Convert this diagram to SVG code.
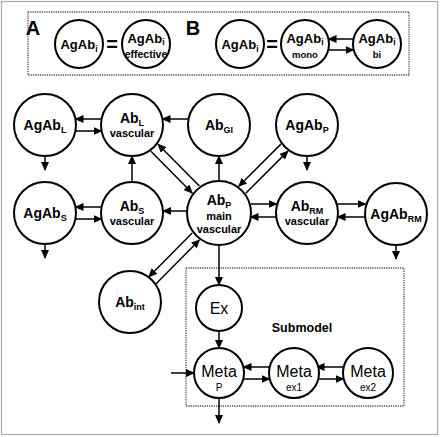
<svg xmlns="http://www.w3.org/2000/svg" width="440" height="437" viewBox="0 0 440 437">
<style>
  .c{fill:#fff;stroke:#000;stroke-width:2}
  .t{font-family:"Liberation Sans",Arial,sans-serif;font-weight:bold;fill:#000;text-anchor:middle}
  .n{font-family:"Liberation Sans",Arial,sans-serif;font-weight:normal;fill:#000;text-anchor:middle}
  .big{font-size:14px}
  .sm{font-size:11px}
  .tp{font-size:13px}
  .ln{fill:none;stroke:#000;stroke-width:1.5;marker-end:url(#ah)}
  .box{fill:none;stroke:#555;stroke-width:1.3;stroke-dasharray:1.3 1}
</style>
<defs>
  <marker id="ah" markerUnits="userSpaceOnUse" markerWidth="9" markerHeight="8" refX="8" refY="4" orient="auto">
    <path d="M0,0 L9,4 L0,8 z" fill="#000"/>
  </marker>
</defs>
<rect x="1.5" y="1.5" width="436" height="433" fill="#fff" stroke="#aaa" stroke-width="1.2"/>
<rect class="box" x="28" y="12" width="381" height="63"/>
<rect class="box" x="186" y="268" width="218" height="138"/>

<g id="panelA">
  <text class="t" x="33" y="35" font-size="20" text-anchor="start">A</text>
  <g id="A_agab"><circle class="c" cx="79" cy="44" r="24"/><text class="t tp" x="79" y="49">AgAb<tspan font-size="8.5" dy="3">i</tspan></text></g>
  <text class="t" x="112" y="51" font-size="20">=</text>
  <g id="A_eff"><circle class="c" cx="146" cy="44" r="24"/><text class="t tp" x="146" y="43">AgAb<tspan font-size="8.5" dy="2">i</tspan></text><text class="t" x="146" y="58" font-size="10.5">effective</text></g>
</g>
<g id="panelB">
  <text class="t" x="193" y="35" font-size="20" text-anchor="start">B</text>
  <g id="B_agab"><circle class="c" cx="240" cy="44" r="24"/><text class="t tp" x="240" y="49">AgAb<tspan font-size="8.5" dy="3">i</tspan></text></g>
  <text class="t" x="272" y="51" font-size="20">=</text>
  <g id="B_mono"><circle class="c" cx="305" cy="44" r="24"/><text class="t tp" x="305" y="43">AgAb<tspan font-size="8.5" dy="2">i</tspan></text><text class="t" x="305" y="58" font-size="9.5">mono</text></g>
  <g id="B_bi"><circle class="c" cx="377" cy="44" r="24"/><text class="t tp" x="377" y="43">AgAb<tspan font-size="8.5" dy="2">i</tspan></text><text class="t" x="377" y="58" font-size="9.5">bi</text></g>
</g>

<g id="connectors">
  <!-- panel B -->
  <line class="ln" x1="353.5" y1="39" x2="328.5" y2="39"/>
  <line class="ln" x1="328.5" y1="50" x2="353.5" y2="50"/>
  <!-- AgAb_L / Ab_L -->
  <line class="ln" x1="101.5" y1="119" x2="75.5" y2="119"/>
  <line class="ln" x1="75.5" y1="131" x2="101.5" y2="131"/>
  <line class="ln" x1="45" y1="156" x2="45" y2="170"/>
  <!-- Ab_GI -> Ab_L -->
  <line class="ln" x1="188.5" y1="119" x2="162.5" y2="119"/>
  <!-- Ab_P -> Ab_GI -->
  <line class="ln" x1="219" y1="181" x2="219" y2="156"/>
  <!-- Ab_S -> Ab_L -->
  <line class="ln" x1="132" y1="182" x2="132" y2="156"/>
  <!-- Ab_L <-> Ab_P -->
  <line class="ln" x1="199.4" y1="186" x2="158" y2="144.3"/>
  <line class="ln" x1="150.9" y1="151.3" x2="192.2" y2="193"/>
  <!-- Ab_S / AgAb_S -->
  <line class="ln" x1="101.5" y1="207" x2="75.5" y2="207"/>
  <line class="ln" x1="75.5" y1="219" x2="101.5" y2="219"/>
  <line class="ln" x1="45" y1="244" x2="45" y2="258"/>
  <!-- Ab_P -> Ab_S -->
  <line class="ln" x1="187" y1="211" x2="163" y2="211"/>
  <!-- Ab_P <-> AgAb_P -->
  <line class="ln" x1="280.9" y1="144.1" x2="238.8" y2="186.2"/>
  <line class="ln" x1="245.8" y1="193.2" x2="287.9" y2="151.1"/>
  <line class="ln" x1="307" y1="156" x2="307" y2="170"/>
  <!-- Ab_P <-> Ab_RM -->
  <line class="ln" x1="250.5" y1="204" x2="276.5" y2="204"/>
  <line class="ln" x1="276.5" y1="217" x2="250.5" y2="217"/>
  <!-- Ab_RM <-> AgAb_RM -->
  <line class="ln" x1="337.5" y1="204" x2="365.5" y2="204"/>
  <line class="ln" x1="365.5" y1="217" x2="337.5" y2="217"/>
  <line class="ln" x1="396" y1="246" x2="396" y2="259"/>
  <!-- Ab_P <-> Ab_int -->
  <line class="ln" x1="192.2" y1="233" x2="148.9" y2="276.7"/>
  <line class="ln" x1="156.1" y1="283.7" x2="199.4" y2="240"/>
  <!-- Ab_P -> Ex -> Meta_P -->
  <line class="ln" x1="219" y1="245" x2="219" y2="285"/>
  <line class="ln" x1="219" y1="331" x2="219" y2="348"/>
  <!-- input to Meta_P -->
  <line class="ln" x1="171" y1="373" x2="194" y2="373"/>
  <!-- Meta_P <-> ex1 -->
  <line class="ln" x1="269.5" y1="367" x2="243.5" y2="367"/>
  <line class="ln" x1="243.5" y1="379" x2="269.5" y2="379"/>
  <!-- ex1 <-> ex2 -->
  <line class="ln" x1="343.5" y1="367" x2="316.5" y2="367"/>
  <line class="ln" x1="316.5" y1="379" x2="343.5" y2="379"/>
  <!-- Meta_P out -->
  <line class="ln" x1="219" y1="398" x2="219" y2="423"/>
</g>

<g id="AgAb_L"><circle class="c" cx="45" cy="125" r="31"/><text class="t big" x="45" y="130">AgAb<tspan font-size="9" dy="3">L</tspan></text></g>
<g id="Ab_L"><circle class="c" cx="132" cy="125" r="31"/><text class="t big" x="132" y="123">Ab<tspan font-size="9" dy="3">L</tspan></text><text class="t sm" x="132" y="137">vascular</text></g>
<g id="Ab_GI"><circle class="c" cx="219" cy="125" r="31"/><text class="t big" x="219" y="130">Ab<tspan font-size="9" dy="3">GI</tspan></text></g>
<g id="AgAb_P"><circle class="c" cx="307" cy="125" r="31"/><text class="t big" x="307" y="130">AgAb<tspan font-size="9" dy="3">P</tspan></text></g>
<g id="AgAb_S"><circle class="c" cx="45" cy="213" r="31"/><text class="t big" x="45" y="218">AgAb<tspan font-size="9" dy="3">S</tspan></text></g>
<g id="Ab_S"><circle class="c" cx="132" cy="213" r="31"/><text class="t big" x="132" y="211">Ab<tspan font-size="9" dy="3">S</tspan></text><text class="t sm" x="132" y="225">vascular</text></g>
<g id="Ab_P"><circle class="c" cx="219" cy="213" r="32"/><text class="t big" x="219" y="205">Ab<tspan font-size="9" dy="3">P</tspan></text><text class="t sm" x="219" y="220">main</text><text class="t sm" x="219" y="233">vascular</text></g>
<g id="Ab_RM"><circle class="c" cx="307" cy="213" r="31"/><text class="t big" x="307" y="211">Ab<tspan font-size="9" dy="3">RM</tspan></text><text class="t sm" x="307" y="225">vascular</text></g>
<g id="AgAb_RM"><circle class="c" cx="396" cy="214" r="31"/><text class="t big" x="396" y="219">AgAb<tspan font-size="9" dy="3">RM</tspan></text></g>
<g id="Ab_int"><circle class="c" cx="130" cy="302" r="31"/><text class="t big" x="130" y="307">Ab<tspan font-size="9" dy="3">int</tspan></text></g>
<g id="Ex"><circle class="c" cx="219" cy="308" r="23"/><text class="n" x="219" y="314" font-size="16">Ex</text></g>
<g id="Meta_P"><circle class="c" cx="219" cy="373" r="25"/><text class="n" x="219" y="377" font-size="16">Meta</text><text class="n" x="219" y="391" font-size="10">P</text></g>
<g id="Meta_ex1"><circle class="c" cx="294" cy="373" r="25"/><text class="n" x="294" y="377" font-size="16">Meta</text><text class="n" x="294" y="391" font-size="10">ex1</text></g>
<g id="Meta_ex2"><circle class="c" cx="368" cy="373" r="25"/><text class="n" x="368" y="377" font-size="16">Meta</text><text class="n" x="368" y="391" font-size="10">ex2</text></g>
<text class="t" x="302" y="332" font-size="12.5">Submodel</text>
</svg>
